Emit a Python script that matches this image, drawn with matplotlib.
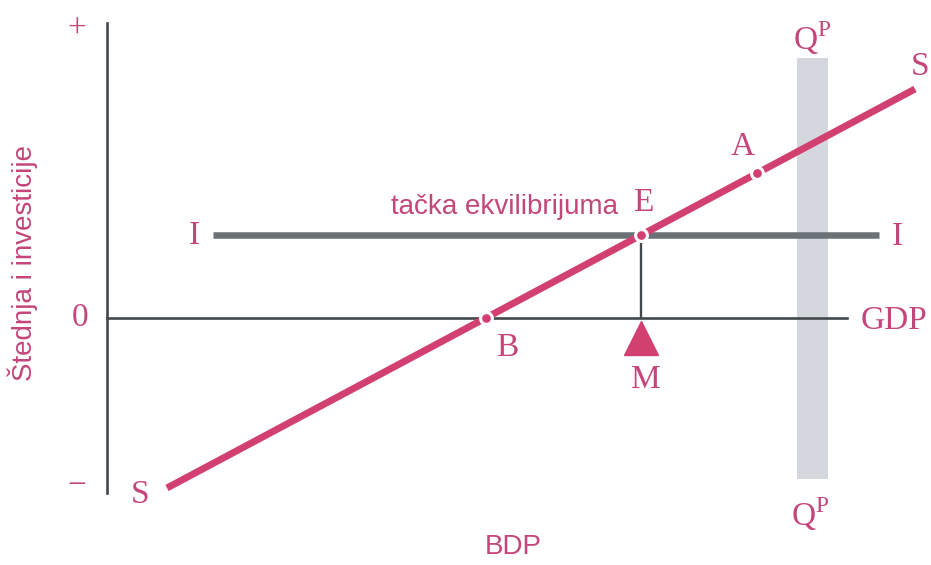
import numpy as np
import matplotlib
matplotlib.use("Agg")
from matplotlib import pyplot as plt

# kriva stednje S (dve krajnje tacke)
s_x = np.array([6.0, 80.8])
s_y = np.array([-17.0, 22.9])
# investicije I (horizontalna linija)
i_level = 8.3
i_x = np.array([10.6, 77.2])
# linija GDP (nula)
gdp_x = np.array([0.0, 74.0])
# vertikalna osa
os_y = np.array([-17.5, 29.5])
# potencijalni proizvod Q^P (siva traka)
qp_x = np.array([69.0, 72.1])
qp_y = np.array([-16.1, 26.0])
# tacka A na krivoj S
a_x = 65.0

slope = (s_y[1] - s_y[0]) / (s_x[1] - s_x[0])
b_x = s_x[0] - s_y[0] / slope                 # S = 0
e_x = s_x[0] + (i_level - s_y[0]) / slope     # S = I
a_y = s_y[0] + slope * (a_x - s_x[0])

roza = "#d2406f"
roza_txt = "#c4467a"
siva = "#6a7277"
tamna = "#42484b"

plt.rcParams["mathtext.fontset"] = "custom"
plt.rcParams["mathtext.rm"] = "Liberation Serif"

fig = plt.figure(figsize=(9.31, 5.65), dpi=100)
ax = fig.add_axes([0, 0, 1, 1])
ax.set_xlim(-10.7, 82.4)
ax.set_ylim(-24.7, 31.8)
ax.axis("off")

# siva traka Q^P
ax.fill_between(qp_x, qp_y[0], qp_y[1], color="#d4d7de", lw=0, zorder=1)
# ose
ax.plot([0, 0], os_y, color=tamna, lw=1.9, zorder=2)
ax.plot(gdp_x, [0, 0], color=tamna, lw=1.9, zorder=2)
# I
ax.plot(i_x, [i_level, i_level], color=siva, lw=4.7, solid_capstyle="butt", zorder=3)
# vertikala E-M
ax.plot([e_x, e_x], [0, i_level], color=tamna, lw=1.7, zorder=3)
# S
ax.plot(s_x, s_y, color=roza, lw=5.0, solid_capstyle="butt", zorder=4)
# tacke
ax.plot([b_x, e_x, a_x], [0, i_level, a_y], "o", ms=8.5, mfc=roza, mec="white",
        mew=2.2, zorder=5)
# trougao M
ax.plot(e_x, -1.95, "^", ms=24, color=roza, zorder=5)

serif = dict(family="Liberation Serif", color=roza_txt, fontsize=24,
             ha="center", va="center")
ax.text(-3.0, 28.9, "+", **serif)
ax.text(-2.7, 0, "0", **serif)
ax.text(-3.0, -16.8, "\u2212", **serif)
ax.text(3.3, -17.7, "S", **serif)
ax.text(81.3, 25.1, "S", **serif)
ax.text(8.7, 8.2, "I", **serif)
ax.text(79.0, 8.1, "I", **serif)
ax.text(78.7, -0.3, "GDP", **serif)
ax.text(40.0, -3.0, "B", **serif)
ax.text(53.6, 11.5, "E", **serif)
ax.text(53.9, -6.2, "M", **serif)
ax.text(63.6, 17.1, "A", **serif)
ax.text(70.5, 28.0, "$\\mathrm{Q}^{\\mathrm{P}}$", **serif)
ax.text(70.3, -19.6, "$\\mathrm{Q}^{\\mathrm{P}}$", **serif)

sans = dict(family="Liberation Sans", color=roza_txt, fontsize=20)
ax.text(39.8, 11.1, "tačka ekvilibrijuma", ha="center", va="center", **sans)
ax.text(40.6, -22.9, "BDP", ha="center", va="center", **sans)
ax.text(-8.4, 5.5, "Štednja i investicije", rotation=90, ha="center",
        va="center", **sans)

fig.savefig("out.png", dpi=100)
